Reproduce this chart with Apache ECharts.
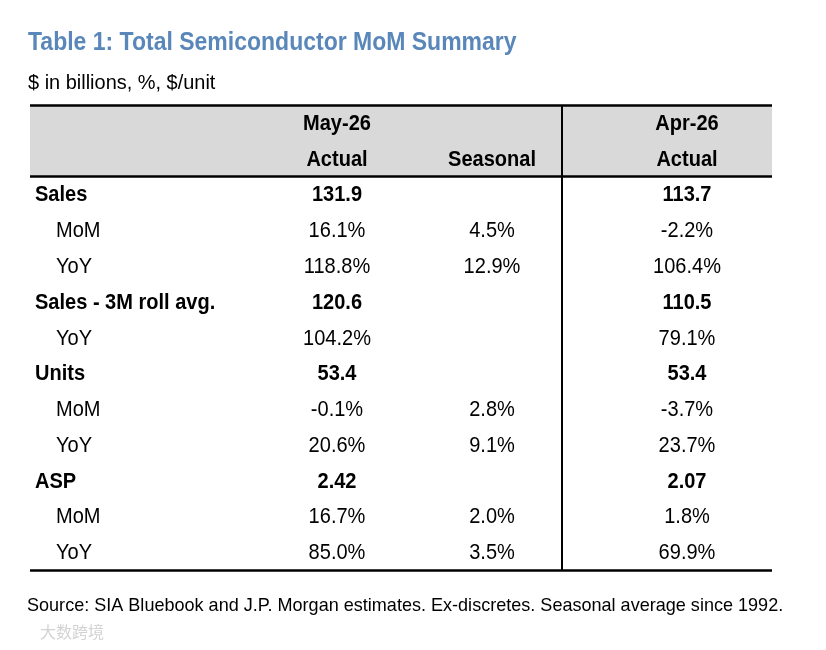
<!DOCTYPE html>
<html><head><meta charset="utf-8">
<script src="https://cdn.jsdelivr.net/npm/echarts@6/dist/echarts.min.js"></script>
<style>html,body{margin:0;padding:0;background:#fff}#c{width:826px;height:650px}</style>
</head><body><div id="c"></div>
<script>
// ---- data ----
var titleText = 'Table 1: Total Semiconductor MoM Summary';
var subtitleText = '$ in billions, %, $/unit';
var sourceText = 'Source: SIA Bluebook and J.P. Morgan estimates. Ex-discretes. Seasonal average since 1992.';
var headerTop = ['May-26', '', 'Apr-26'];
var headerBottom = ['Actual', 'Seasonal', 'Actual'];
var rowLabels = ['Sales', 'MoM', 'YoY', 'Sales - 3M roll avg.', 'YoY', 'Units', 'MoM', 'YoY', 'ASP', 'MoM', 'YoY'];
var rowIsTotal = [true, false, false, true, false, true, false, false, true, false, false];
var rowIsPct = [false, true, true, false, true, false, true, true, false, true, true];
var rowDecimals = [1, 1, 1, 1, 1, 1, 1, 1, 2, 1, 1];
var mayActual = [131.9, 16.1, 118.8, 120.6, 104.2, 53.4, -0.1, 20.6, 2.42, 16.7, 85.0];
var seasonal = [null, 4.5, 12.9, null, null, null, 2.8, 9.1, null, 2.0, 3.5];
var aprActual = [113.7, -2.2, 106.4, 110.5, 79.1, 53.4, -3.7, 23.7, 2.07, 1.8, 69.9];

// ---- layout ----
var FONT = '"Liberation Sans", Arial, sans-serif';
var FS = 22;
var SX = 0.91;
var X_MAX = 742;
var colX = { labelTotal: 5, labelSub: 26, may: 307, seas: 462, apr: 657, divider: 532 };
var HEADER_ROWS = 2;
var N_ROWS = HEADER_ROWS + rowLabels.length;

function fmt(v, i) {
  return v.toFixed(rowDecimals[i]) + (rowIsPct[i] ? '%' : '');
}

// cells: [x, row, text, bold, align]
var cells = [];
[colX.may, colX.seas, colX.apr].forEach(function (x, c) {
  if (headerTop[c]) cells.push([x, 0, headerTop[c], true, 'center']);
  if (headerBottom[c]) cells.push([x, 1, headerBottom[c], true, 'center']);
});
rowLabels.forEach(function (t, i) {
  cells.push([rowIsTotal[i] ? colX.labelTotal : colX.labelSub, i + HEADER_ROWS, t, rowIsTotal[i], 'left']);
});
[[mayActual, colX.may], [seasonal, colX.seas], [aprActual, colX.apr]].forEach(function (pair) {
  pair[0].forEach(function (v, i) {
    if (v === null) return;
    cells.push([pair[1], i + HEADER_ROWS, fmt(v, i), rowIsTotal[i], 'center']);
  });
});

function txt(x, y, text, font, fill, sx) {
  return { type: 'text', x: x, y: y, scaleX: sx, silent: true,
    style: { text: text, font: font, fill: fill, align: 'left', verticalAlign: 'middle' } };
}

var option = {
  animation: false,
  backgroundColor: '#fff',
  grid: { left: 30, right: 826 - 772, top: 105, bottom: 80 },
  xAxis: { type: 'value', min: 0, max: X_MAX, show: false },
  yAxis: { type: 'value', min: -0.5, max: N_ROWS - 0.5, inverse: true, show: false },
  graphic: [
    txt(28, 43, titleText, 'bold 25px ' + FONT, '#5a87ba', 0.92),
    txt(28, 83, subtitleText, '21px ' + FONT, '#000', 0.95),
    txt(27, 606, sourceText, '19px ' + FONT, '#000', 0.95),
    txt(40, 632, '大数跨境', '16px "Noto Sans CJK SC"', '#d3d3d3', 1)
  ],
  series: [
    {
      name: 'frame', type: 'scatter', data: [], silent: true,
      markArea: {
        silent: true, itemStyle: { color: '#d9d9d9' },
        data: [[{ coord: [0, -0.5] }, { coord: [X_MAX, HEADER_ROWS - 0.5] }]]
      },
      markLine: {
        silent: true, symbol: ['none', 'none'], label: { show: false },
        lineStyle: { color: '#000', type: 'solid', width: 2.5 },
        data: [
          [{ coord: [0, -0.5] }, { coord: [X_MAX, -0.5] }],
          [{ coord: [0, HEADER_ROWS - 0.5] }, { coord: [X_MAX, HEADER_ROWS - 0.5] }],
          [{ coord: [0, N_ROWS - 0.5] }, { coord: [X_MAX, N_ROWS - 0.5] }],
          [{ coord: [colX.divider, -0.5], lineStyle: { width: 2 } }, { coord: [colX.divider, N_ROWS - 0.5] }]
        ]
      }
    },
    {
      name: 'cells', type: 'custom', silent: true,
      encode: { x: 0, y: 1 },
      data: cells.map(function (c) { return [c[0], c[1]]; }),
      renderItem: function (params, api) {
        var c = cells[params.dataIndex];
        var pt = api.coord([api.value(0), api.value(1)]);
        return {
          type: 'text', x: pt[0], y: pt[1] + 1, scaleX: SX,
          style: {
            text: c[2], fill: '#000',
            font: (c[3] ? 'bold ' : '') + FS + 'px ' + FONT,
            align: c[4], verticalAlign: 'middle'
          }
        };
      }
    }
  ]
};
var chart = echarts.init(document.getElementById('c'), null, { renderer: 'canvas' });
chart.setOption(option);
</script></body></html>
